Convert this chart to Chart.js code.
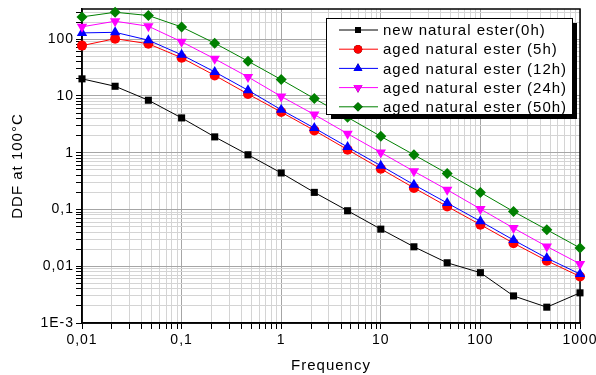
<!DOCTYPE html>
<html>
<head>
<meta charset="utf-8">
<script src="https://cdn.jsdelivr.net/npm/chart.js@4.4.1/dist/chart.umd.min.js"></script>
<style>
  html, body { margin: 0; padding: 0; background: #fff; }
  #wrap { width: 596px; height: 375px; }
</style>
</head>
<body>
<div id="wrap"><canvas id="ddfChart" width="596" height="375"></canvas></div>
<script>
const freqs = [0.01, 0.0215, 0.0464, 0.1, 0.215, 0.464, 1, 2.15, 4.64, 10, 21.5, 46.4, 100, 215, 464, 1000];

const new0h = [20, 14.8, 8.4, 4.1, 1.9, 0.92, 0.44, 0.2, 0.095, 0.045, 0.022, 0.0115, 0.0077, 0.003, 0.0019, 0.0034];
const aged5h = [77, 102, 83, 47, 23, 10.8, 5.2, 2.47, 1.13, 0.52, 0.24, 0.113, 0.054, 0.0255, 0.0125, 0.0066];
const aged12h = [129, 132, 96, 53, 26.5, 12.6, 5.7, 2.72, 1.26, 0.59, 0.273, 0.13, 0.062, 0.029, 0.0139, 0.0073];
const aged24h = [165, 207, 169, 90, 45, 21.6, 9.8, 4.7, 2.16, 1.01, 0.47, 0.222, 0.102, 0.047, 0.0223, 0.011];
const aged50h = [247, 298, 261, 164, 85, 41, 19.4, 9.0, 4.2, 1.94, 0.92, 0.43, 0.2, 0.092, 0.044, 0.021];

const seriesLabels = [
  'new natural ester(0h)',
  'aged natural ester (5h)',
  'aged natural ester (12h)',
  'aged natural ester (24h)',
  'aged natural ester (50h)'
];

const xTickLabels = ['0,01', '0,1', '1', '10', '100', '1000'];
const yTickLabels = ['1E-3', '0,01', '0,1', '1', '10', '100'];

const FONT = 'Liberation Sans, Arial, sans-serif';

function toPoints(values) {
  return values.map((v, i) => ({ x: freqs[i], y: v }));
}

function isDecade(v) {
  const l = Math.log10(v);
  return Math.abs(l - Math.round(l)) < 1e-6;
}

// 1..9 x 10^e ticks between min and max
function logTicks(min, max) {
  const ticks = [];
  for (let e = Math.floor(Math.log10(min)); e <= Math.ceil(Math.log10(max)); e++) {
    for (let m = 1; m <= 9; m++) {
      const v = parseFloat((m * Math.pow(10, e)).toPrecision(6));
      if (v >= min * 0.9999 && v <= max * 1.0001) ticks.push({ value: v, major: m === 1 });
    }
  }
  return ticks;
}

function decadeLabel(value, min, labels) {
  if (!isDecade(value)) return '';
  const idx = Math.round(Math.log10(value) - Math.log10(min));
  return labels[idx] !== undefined ? labels[idx] : '';
}

const styles = [
  { color: '#000000', pointStyle: 'rect', radius: 5 },
  { color: '#ff0000', pointStyle: 'circle', radius: 5 },
  { color: '#0000ff', pointStyle: 'triangle', radius: 6 },
  { color: '#ff00ff', pointStyle: 'triangle', radius: 6, rotation: 180 },
  { color: '#008000', pointStyle: 'rectRot', radius: 5.5 }
];

const allSeries = [new0h, aged5h, aged12h, aged24h, aged50h];

const data = {
  datasets: allSeries.map((vals, i) => ({
    label: seriesLabels[i],
    data: toPoints(vals),
    borderColor: styles[i].color,
    backgroundColor: styles[i].color,
    borderWidth: 1,
    pointStyle: styles[i].pointStyle,
    pointRadius: styles[i].radius,
    pointRotation: styles[i].rotation || 0,
    pointBorderWidth: 0,
    pointBackgroundColor: styles[i].color,
    clip: false
  })).reverse()
};

// wider text spacing, like the original
const spacing = {
  id: 'spacing',
  beforeLayout(chart) { chart.ctx.letterSpacing = '1px'; },
  beforeDraw(chart) { chart.ctx.letterSpacing = '1px'; }
};

// box round the plot area (top / right)
const frame = {
  id: 'frame',
  beforeDatasetsDraw(chart) {
    const { ctx, chartArea: a } = chart;
    ctx.save();
    ctx.strokeStyle = '#000';
    ctx.lineWidth = 1.5;
    ctx.strokeRect(a.left, a.top, a.right - a.left, a.bottom - a.top);
    ctx.restore();
  }
};

// legend box with drop shadow, inside the plot
const boxLegend = {
  id: 'boxLegend',
  afterDatasetsDraw(chart) {
    const { ctx } = chart;
    const x = 326, y = 18, w = 246, h = 96;
    ctx.save();
    ctx.fillStyle = '#000';
    ctx.fillRect(x + 5, y + 5, w, h);
    ctx.fillStyle = '#fff';
    ctx.fillRect(x, y, w, h);
    ctx.strokeStyle = '#000';
    ctx.lineWidth = 1;
    ctx.strokeRect(x + 0.5, y + 0.5, w, h);
    ctx.font = '15px ' + FONT;
    ctx.letterSpacing = '1px';
    ctx.textBaseline = 'middle';
    seriesLabels.forEach((label, i) => {
      const ry = 30 + i * 19.2;
      const st = styles[i];
      ctx.strokeStyle = st.color;
      ctx.lineWidth = 1;
      ctx.beginPath();
      ctx.moveTo(339, ry);
      ctx.lineTo(378, ry);
      ctx.stroke();
      Chart.helpers.drawPoint(ctx, {
        pointStyle: st.pointStyle,
        radius: st.radius * 0.85,
        rotation: st.rotation || 0,
        borderWidth: 0
      }, 358, ry);
      ctx.fillStyle = st.color;
      ctx.fill();
      ctx.fillStyle = '#000';
      ctx.fillText(label, 383, ry + 1);
    });
    ctx.restore();
  }
};

const X_MIN = 0.01, X_MAX = 1000, Y_MIN = 0.001, Y_MAX = 340;

const config = {
  type: 'line',
  data: data,
  plugins: [spacing, frame, boxLegend],
  options: {
    responsive: false,
    animation: false,
    layout: { padding: { left: 0, right: 16, top: 9, bottom: 0 } },
    plugins: {
      legend: { display: false },
      tooltip: { enabled: false }
    },
    scales: {
      x: {
        type: 'logarithmic',
        min: X_MIN,
        max: X_MAX,
        afterBuildTicks: (axis) => { axis.ticks = logTicks(X_MIN, X_MAX); },
        afterFit: (axis) => {
          axis.height = 52;
          axis.paddingLeft = 0;
          axis.paddingRight = 0;
        },
        ticks: {
          autoSkip: false,
          maxRotation: 0,
          color: '#000',
          padding: 3,
          font: { family: FONT, size: 14 },
          callback: (value) => decadeLabel(value, X_MIN, xTickLabels)
        },
        grid: {
          color: (c) => (c.tick && isDecade(c.tick.value) ? '#a6a6a6' : '#d4d4d4'),
          lineWidth: 1,
          tickLength: 6,
          tickColor: '#000'
        },
        border: { color: '#000', width: 1.5 },
        title: {
          display: true,
          text: 'Frequency',
          color: '#000',
          font: { family: FONT, size: 15 },
          padding: { top: 1, bottom: 0 }
        }
      },
      y: {
        type: 'logarithmic',
        min: Y_MIN,
        max: Y_MAX,
        afterBuildTicks: (axis) => { axis.ticks = logTicks(Y_MIN, Y_MAX); },
        afterFit: (axis) => {
          axis.width = 82;
          axis.paddingTop = 0;
          axis.paddingBottom = 0;
        },
        ticks: {
          autoSkip: false,
          color: '#000',
          padding: 2,
          font: { family: FONT, size: 14 },
          callback: (value) => decadeLabel(value, Y_MIN, yTickLabels)
        },
        grid: {
          color: (c) => (c.tick && isDecade(c.tick.value) ? '#a6a6a6' : '#d4d4d4'),
          lineWidth: 1,
          tickLength: 6,
          tickColor: '#000'
        },
        border: { color: '#000', width: 1.5 },
        title: {
          display: true,
          text: 'DDF at 100°C',
          color: '#000',
          font: { family: FONT, size: 15 },
          padding: { top: 9, bottom: 0 }
        }
      }
    }
  }
};

const ddfChart = new Chart(document.getElementById('ddfChart'), config);
</script>
</body>
</html>
